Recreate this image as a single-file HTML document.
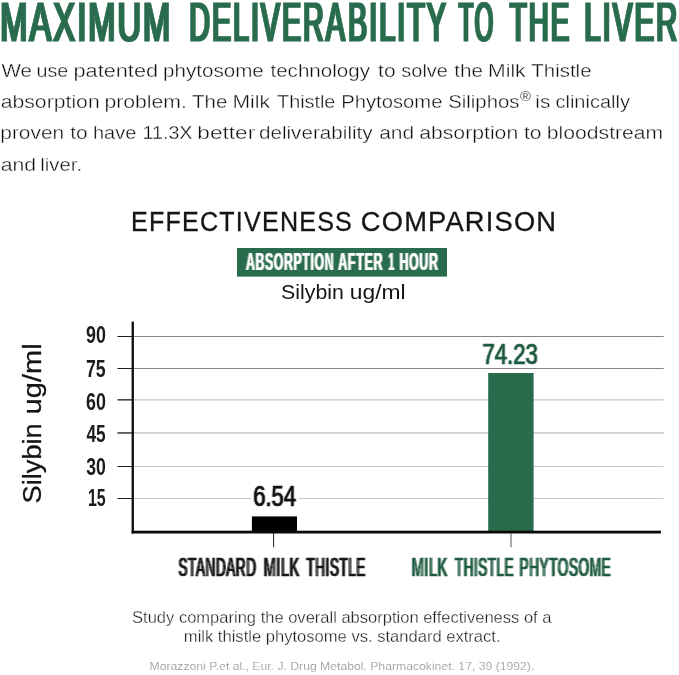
<!DOCTYPE html>
<html lang="en">
<head>
<meta charset="utf-8">
<title>Maximum Deliverability to the Liver</title>
<style>
html,body{margin:0;padding:0;background:#ffffff;}
body{width:679px;height:675px;overflow:hidden;}
svg{display:block;font-family:"Liberation Sans",sans-serif;will-change:transform;}
text{white-space:pre;}
</style>
</head>
<body>
<svg width="679" height="675" viewBox="0 0 679 675" role="img" aria-label="Maximum deliverability to the liver: effectiveness comparison chart">
<defs>
<filter id="d100" x="-3%" y="-10%" width="106%" height="120%" color-interpolation-filters="sRGB"><feMorphology in="SourceGraphic" operator="dilate" radius="1 0" result="d"/><feComposite in="d" in2="SourceGraphic" operator="arithmetic" k1="0" k2="1.00" k3="0.00" k4="0"/></filter>
<filter id="d50" x="-3%" y="-10%" width="106%" height="120%" color-interpolation-filters="sRGB"><feMorphology in="SourceGraphic" operator="dilate" radius="1 0" result="d"/><feComposite in="d" in2="SourceGraphic" operator="arithmetic" k1="0" k2="0.50" k3="0.50" k4="0"/></filter>
<filter id="d25" x="-3%" y="-10%" width="106%" height="120%" color-interpolation-filters="sRGB"><feMorphology in="SourceGraphic" operator="dilate" radius="1 0" result="d"/><feComposite in="d" in2="SourceGraphic" operator="arithmetic" k1="0" k2="0.25" k3="0.75" k4="0"/></filter>
<filter id="d62" x="-3%" y="-10%" width="106%" height="120%" color-interpolation-filters="sRGB"><feMorphology in="SourceGraphic" operator="dilate" radius="1 0" result="d"/><feComposite in="d" in2="SourceGraphic" operator="arithmetic" k1="0" k2="0.62" k3="0.38" k4="0"/></filter>
</defs>
<rect width="679" height="675" fill="#ffffff"/>
<rect x="133" y="336" width="530.7" height="1" fill="#858585"/>
<rect x="117.5" y="336" width="15" height="1" fill="#1a1a1a"/>
<rect x="133" y="368" width="530.7" height="1" fill="#858585"/>
<rect x="117.5" y="368" width="15" height="1" fill="#1a1a1a"/>
<rect x="133" y="399.2" width="530.7" height="1.3" fill="#c9c9c9"/>
<rect x="117.5" y="399.2" width="15" height="1.3" fill="#1a1a1a"/>
<rect x="133" y="432.3" width="530.7" height="1.3" fill="#bdbdbd"/>
<rect x="117.5" y="432.3" width="15" height="1.3" fill="#1a1a1a"/>
<rect x="133" y="466" width="530.7" height="1" fill="#c6c6c6"/>
<rect x="117.5" y="466" width="15" height="1" fill="#1a1a1a"/>
<rect x="133" y="498" width="530.7" height="1" fill="#c6c6c6"/>
<rect x="117.5" y="498" width="15" height="1" fill="#1a1a1a"/>
<rect x="251" y="484" width="48" height="24" fill="#ffffff"/>
<rect x="488.2" y="373" width="45.4" height="159" fill="#296b4d"/>
<rect x="251.9" y="516.4" width="45.1" height="16" fill="#000000"/>
<rect x="131.6" y="321.6" width="2.3" height="211.8" fill="#0a0a0a"/>
<rect x="131.6" y="530.7" width="529.3" height="2.8" fill="#0a0a0a"/>
<rect x="273.1" y="533" width="1" height="14.3" fill="#222222"/>
<rect x="510.5" y="533" width="1" height="14.3" fill="#555555"/>
<rect x="237" y="248" width="210" height="28.6" fill="#296b4d"/>
<text font-size="55.23" fill="#296b4d" stroke="#296b4d" stroke-width="1.0" filter="url(#d100)"><tspan x="0.31" y="40.7" letter-spacing="3.38" textLength="172.07" lengthAdjust="spacingAndGlyphs">MAXIMUM</tspan> <tspan x="189.21" y="40.7" letter-spacing="3.86" textLength="157.59" lengthAdjust="spacingAndGlyphs">DELIVERA</tspan><tspan x="348.10" y="40.7" letter-spacing="3.84" textLength="99.87" lengthAdjust="spacingAndGlyphs">BILITY</tspan> <tspan x="458.78" y="40.7" letter-spacing="4.67" textLength="36.44" lengthAdjust="spacingAndGlyphs">TO</tspan> <tspan x="509.83" y="40.7" letter-spacing="3.99" textLength="61.41" lengthAdjust="spacingAndGlyphs">THE</tspan> <tspan x="584.25" y="40.7" letter-spacing="3.75" textLength="95.05" lengthAdjust="spacingAndGlyphs">LIVER</tspan></text>
<text font-size="19.2" fill="#0e0e0e" stroke="#ffffff" stroke-width="0.38"><tspan x="1.51" y="77.19" textLength="30.51" lengthAdjust="spacingAndGlyphs">We</tspan> <tspan x="36.53" y="77.19" textLength="31.74" lengthAdjust="spacingAndGlyphs">use</tspan> <tspan x="73.48" y="77.19" textLength="84.63" lengthAdjust="spacingAndGlyphs">patented</tspan> <tspan x="162.97" y="77.19" textLength="100.85" lengthAdjust="spacingAndGlyphs">phytosome</tspan> <tspan x="270.48" y="77.19" textLength="99.46" lengthAdjust="spacingAndGlyphs">technology</tspan> <tspan x="378.07" y="77.19" textLength="17.52" lengthAdjust="spacingAndGlyphs">to</tspan> <tspan x="401.24" y="77.19" textLength="46.74" lengthAdjust="spacingAndGlyphs">solve</tspan> <tspan x="454.28" y="77.19" textLength="28.74" lengthAdjust="spacingAndGlyphs">the</tspan> <tspan x="488.05" y="77.19" textLength="37.63" lengthAdjust="spacingAndGlyphs">Milk</tspan> <tspan x="531.34" y="77.19" textLength="60.17" lengthAdjust="spacingAndGlyphs">Thistle</tspan></text>
<text font-size="19.2" fill="#0e0e0e" stroke="#ffffff" stroke-width="0.38"><tspan x="0.69" y="108.19" textLength="99.00" lengthAdjust="spacingAndGlyphs">absorption</tspan> <tspan x="104.42" y="108.19" textLength="82.53" lengthAdjust="spacingAndGlyphs">problem.</tspan> <tspan x="192.14" y="108.19" textLength="35.27" lengthAdjust="spacingAndGlyphs">The</tspan> <tspan x="232.46" y="108.19" textLength="37.52" lengthAdjust="spacingAndGlyphs">Milk</tspan> <tspan x="277.06" y="108.19" textLength="58.32" lengthAdjust="spacingAndGlyphs">Thistle</tspan> <tspan x="341.24" y="108.19" textLength="101.16" lengthAdjust="spacingAndGlyphs">Phytosome</tspan> <tspan x="448.17" y="108.19" textLength="71.37" lengthAdjust="spacingAndGlyphs">Siliphos</tspan><tspan x="520.12" y="101.45" font-size="12.5" stroke-width="0.1" textLength="10.98" lengthAdjust="spacingAndGlyphs">®</tspan> <tspan x="535.31" y="108.19" textLength="14.94" lengthAdjust="spacingAndGlyphs">is</tspan> <tspan x="555.45" y="108.19" textLength="74.49" lengthAdjust="spacingAndGlyphs">clinically</tspan></text>
<text font-size="19.2" fill="#0e0e0e" stroke="#ffffff" stroke-width="0.38"><tspan x="0.24" y="139.19" textLength="64.03" lengthAdjust="spacingAndGlyphs">proven</tspan> <tspan x="70.17" y="139.19" textLength="17.52" lengthAdjust="spacingAndGlyphs">to</tspan> <tspan x="93.01" y="139.19" textLength="43.37" lengthAdjust="spacingAndGlyphs">have</tspan> <tspan x="142.50" y="139.19" textLength="50.00" lengthAdjust="spacingAndGlyphs">11.3X</tspan> <tspan x="197.31" y="139.19" textLength="57.99" lengthAdjust="spacingAndGlyphs">better</tspan> <tspan x="258.93" y="139.19" textLength="113.72" lengthAdjust="spacingAndGlyphs">deliverability</tspan> <tspan x="379.20" y="139.19" textLength="34.96" lengthAdjust="spacingAndGlyphs">and</tspan> <tspan x="419.19" y="139.19" textLength="99.00" lengthAdjust="spacingAndGlyphs">absorption</tspan> <tspan x="523.97" y="139.19" textLength="17.52" lengthAdjust="spacingAndGlyphs">to</tspan> <tspan x="546.83" y="139.19" textLength="116.38" lengthAdjust="spacingAndGlyphs">bloodstream</tspan></text>
<text font-size="19.2" fill="#0e0e0e" stroke="#ffffff" stroke-width="0.38"><tspan x="0.79" y="170.59" textLength="35.39" lengthAdjust="spacingAndGlyphs">and</tspan> <tspan x="40.23" y="170.59" textLength="41.83" lengthAdjust="spacingAndGlyphs">liver.</tspan></text>
<text font-size="28.4" fill="#141414" stroke="#141414" stroke-width="0.3"><tspan x="131.07" y="230.85" letter-spacing="1.36" textLength="221.95" lengthAdjust="spacingAndGlyphs">EFFECTIVENESS</tspan> <tspan x="360.86" y="230.85" letter-spacing="1.25" textLength="196.42" lengthAdjust="spacingAndGlyphs">COMPARISON</tspan></text>
<text font-size="23.69" font-weight="bold" fill="#ffffff" filter="url(#d50)"><tspan x="246.09" y="270.4" letter-spacing="1.16" textLength="88.04" lengthAdjust="spacingAndGlyphs">ABSORPTION</tspan> <tspan x="338.19" y="270.4" letter-spacing="1.13" textLength="44.87" lengthAdjust="spacingAndGlyphs">AFTER</tspan> <tspan x="388.55" y="270.4" letter-spacing="1.38" textLength="6.34" lengthAdjust="spacingAndGlyphs">1</tspan> <tspan x="399.47" y="270.4" letter-spacing="1.14" textLength="39.09" lengthAdjust="spacingAndGlyphs">HOUR</tspan></text>
<text font-size="19.5" fill="#151515"><tspan x="281.13" y="299.3" textLength="62.75" lengthAdjust="spacingAndGlyphs">Silybin</tspan> <tspan x="349.82" y="299.3" textLength="55.81" lengthAdjust="spacingAndGlyphs">ug/ml</tspan></text>
<text font-size="23.4" font-weight="bold" fill="#1c1c1c"><tspan x="86.08" y="343.2" textLength="19.85" lengthAdjust="spacingAndGlyphs">90</tspan></text>
<text font-size="23.4" font-weight="bold" fill="#1c1c1c"><tspan x="85.94" y="376.5" textLength="19.76" lengthAdjust="spacingAndGlyphs">75</tspan></text>
<text font-size="23.4" font-weight="bold" fill="#1c1c1c"><tspan x="86.05" y="409.5" textLength="19.89" lengthAdjust="spacingAndGlyphs">60</tspan></text>
<text font-size="23.4" font-weight="bold" fill="#1c1c1c"><tspan x="86.44" y="441.7" textLength="19.24" lengthAdjust="spacingAndGlyphs">45</tspan></text>
<text font-size="23.4" font-weight="bold" fill="#1c1c1c"><tspan x="86.30" y="474.7" textLength="19.63" lengthAdjust="spacingAndGlyphs">30</tspan></text>
<text font-size="23.4" font-weight="bold" fill="#1c1c1c"><tspan x="87.90" y="506.2" textLength="17.75" lengthAdjust="spacingAndGlyphs">15</tspan></text>
<text font-size="28.63" fill="#111111" stroke="#111111" stroke-width="0.7" filter="url(#d25)"><tspan x="253.20" y="505.75" textLength="42.93" lengthAdjust="spacingAndGlyphs">6.54</tspan></text>
<text font-size="28.92" fill="#1f5a40" stroke="#1f5a40" stroke-width="0.7" filter="url(#d25)"><tspan x="482.38" y="363.85" textLength="55.37" lengthAdjust="spacingAndGlyphs">74.23</tspan></text>
<text font-size="25.44" fill="#161616" stroke="#161616" stroke-width="0.4" filter="url(#d62)"><tspan x="178.51" y="576.1" letter-spacing="1.13" textLength="78.01" lengthAdjust="spacingAndGlyphs">STANDARD</tspan> <tspan x="263.75" y="576.1" letter-spacing="1.06" textLength="36.08" lengthAdjust="spacingAndGlyphs">MILK</tspan> <tspan x="306.62" y="576.1" letter-spacing="1.14" textLength="59.12" lengthAdjust="spacingAndGlyphs">THISTLE</tspan></text>
<text font-size="25.44" fill="#1f5a40" stroke="#1f5a40" stroke-width="0.4" filter="url(#d62)"><tspan x="411.65" y="576.1" letter-spacing="1.05" textLength="36.18" lengthAdjust="spacingAndGlyphs">MILK</tspan> <tspan x="454.92" y="576.1" letter-spacing="1.14" textLength="59.23" lengthAdjust="spacingAndGlyphs">THISTLE</tspan> <tspan x="519.51" y="576.1" letter-spacing="1.13" textLength="91.74" lengthAdjust="spacingAndGlyphs">PHYTOSOME</tspan></text>
<text font-size="16" fill="#1c1c1c" stroke="#ffffff" stroke-width="0.3"><tspan x="132.09" y="622.55" textLength="419.36" lengthAdjust="spacingAndGlyphs">Study comparing the overall absorption effectiveness of a</tspan></text>
<text font-size="16" fill="#1c1c1c" stroke="#ffffff" stroke-width="0.3"><tspan x="183.84" y="642.05" textLength="316.72" lengthAdjust="spacingAndGlyphs">milk thistle phytosome vs. standard extract.</tspan></text>
<text font-size="11.6" fill="#969696" stroke="#ffffff" stroke-width="0.15"><tspan x="149.52" y="670.38" textLength="384.77" lengthAdjust="spacingAndGlyphs">Morazzoni P.et al., Eur. J. Drug Metabol. Pharmacokinet. 17, 39 (1992).</tspan></text>
<text transform="translate(40.8,502.3) rotate(-90)" font-size="26" fill="#141414" stroke="#141414" stroke-width="0.3"><tspan x="-1.08" y="0" textLength="80.09" lengthAdjust="spacingAndGlyphs">Silybin</tspan> <tspan x="87.88" y="0" textLength="71.10" lengthAdjust="spacingAndGlyphs">ug/ml</tspan></text>
</svg>
</body>
</html>
